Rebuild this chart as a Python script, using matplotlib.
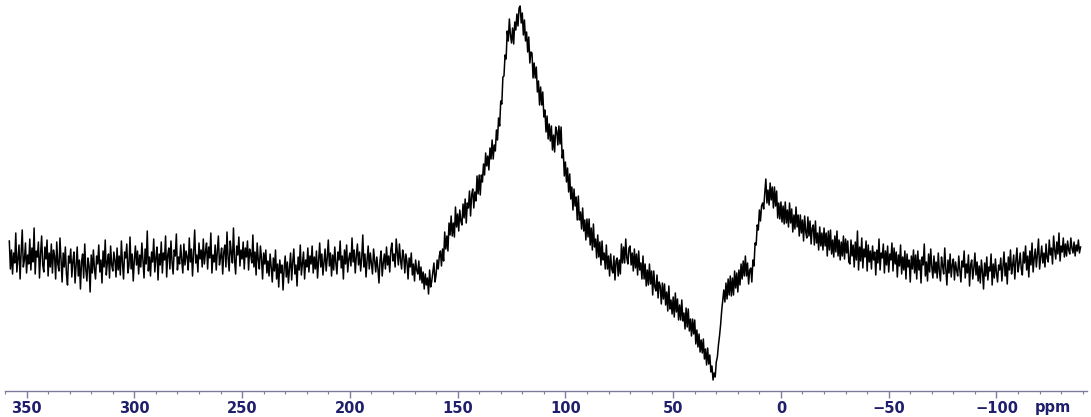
import numpy as np
import matplotlib
matplotlib.use('Agg')
import matplotlib.pyplot as plt
from matplotlib.ticker import MultipleLocator

# Spectrum, one value every 0.5 ppm from 358 down to -139
ppm_start = 358
ppm_end = -139

intensity = [
    # 358 .. 268.5  (flat noisy baseline)
    150, 122, 141, 117, 138, 128, 158, 119, 133, 146, 112, 139, 161, 124, 131, 148, 118, 136, 127, 152,
    121, 143, 129, 163, 117, 140, 134, 149, 113, 137, 155, 126, 119, 144, 132, 151, 115, 138, 124, 147,
    118, 141, 135, 112, 149, 127, 120, 153, 131, 109, 138, 124, 144, 117, 106, 135, 128, 142, 114, 130,
    139, 108, 126, 144, 115, 131, 102, 129, 137, 113, 147, 121, 110, 133, 125, 99, 136, 118, 141, 122,
    112, 135, 127, 146, 119, 131, 108, 140, 124, 151, 116, 129, 137, 113, 145, 126, 120, 139, 131, 114,
    143, 121, 135, 116, 150, 128, 112, 139, 133, 147, 118, 125, 154, 122, 137, 110, 131, 145, 126, 140,
    117, 136, 124, 148, 131, 113, 142, 127, 160, 120, 134, 115, 139, 129, 152, 119, 133, 144, 111, 137,
    126, 149, 118, 138, 131, 155, 114, 136, 143, 122, 150, 129, 117, 141, 135, 157, 121, 134, 127, 146,
    131, 118, 147, 126, 140, 134, 121, 153, 129, 142, 115, 137, 161, 128, 136, 119, 148, 132, 141, 124,
    # 268 .. 168.5
    152, 127, 139, 148, 122, 144, 133, 158, 118, 136, 129, 146, 121, 140, 155, 126, 134, 143, 117, 139,
    146, 124, 159, 133, 120, 150, 138, 128, 163, 131, 117, 145, 136, 154, 125, 141, 132, 149, 122, 143,
    134, 150, 121, 142, 137, 128, 156, 124, 139, 116, 148, 131, 122, 145, 133, 112, 138, 127, 141, 118,
    130, 115, 137, 124, 109, 133, 120, 141, 112, 127, 104, 131, 118, 126, 101, 122, 135, 114, 129, 108,
    123, 138, 111, 129, 142, 117, 126, 105, 134, 121, 146, 116, 128, 139, 112, 131, 124, 143, 119, 135,
    127, 145, 118, 134, 122, 140, 113, 131, 148, 124, 137, 116, 129, 142, 120, 133, 151, 125, 138, 115,
    136, 121, 144, 128, 117, 139, 131, 150, 123, 135, 112, 141, 127, 146, 119, 132, 138, 125, 153, 129,
    141, 118, 135, 147, 126, 139, 120, 133, 156, 124, 137, 114, 131, 145, 122, 138, 127, 117, 142, 130,
    119, 134, 123, 108, 131, 140, 115, 128, 137, 122, 144, 126, 135, 119, 141, 148, 130, 137, 124, 152,
    139, 126, 147, 131, 122, 141, 135, 118, 137, 129, 112, 133, 124, 138, 116, 127, 110, 131, 121, 117,
    # 168 .. 68.5  (broad peak near 121 ppm)
    130, 111, 124, 108, 119, 102, 117, 106, 113, 97, 121, 104, 110, 119, 128, 109, 116, 131, 122, 135,
    140, 125, 142, 130, 159, 142, 155, 140, 168, 156, 175, 155, 168, 154, 184, 164, 177, 160, 181, 170,
    166, 187, 173, 192, 168, 188, 183, 200, 175, 196, 202, 183, 199, 190, 215, 197, 216, 196, 216, 209,
    227, 216, 238, 225, 235, 221, 243, 232, 251, 232, 246, 240, 261, 251, 273, 265, 290, 287, 314, 315,
    336, 332, 360, 350, 372, 356, 348, 363, 347, 369, 361, 377, 365, 383, 385, 368, 378, 356, 371, 350,
    359, 339, 354, 328, 339, 338, 313, 328, 313, 324, 299, 310, 286, 304, 286, 299, 274, 281, 259, 275,
    252, 267, 250, 265, 241, 256, 239, 264, 260, 246, 265, 247, 264, 233, 241, 215, 229, 209, 223, 199,
    217, 192, 204, 181, 202, 185, 194, 171, 195, 171, 179, 162, 183, 160, 171, 151, 172, 154, 172, 146,
    163, 141, 167, 144, 152, 133, 156, 134, 149, 126, 150, 131, 138, 122, 146, 122, 135, 115, 137, 122,
    118, 135, 111, 130, 133, 115, 131, 117, 147, 128, 144, 128, 152, 133, 127, 143, 145, 126, 138, 120,
    # 68 .. -31.5  (dip near 31 ppm, then peak near 7 ppm)
    142, 123, 137, 116, 140, 121, 128, 112, 135, 112, 127, 105, 121, 106, 127, 107, 120, 96, 120, 104,
    100, 116, 93, 109, 105, 87, 108, 92, 107, 86, 99, 80, 105, 82, 91, 77, 94, 74, 98, 79,
    92, 71, 86, 71, 91, 70, 78, 62, 83, 64, 82, 60, 72, 55, 72, 57, 71, 47, 61, 44,
    57, 39, 51, 38, 52, 32, 42, 26, 43, 27, 36, 19, 25, 11, 18, 14, 29, 34, 46, 55,
    66, 80, 91, 101, 89, 108, 92, 112, 96, 115, 95, 113, 96, 120, 103, 118, 99, 121, 106, 127,
    112, 130, 115, 135, 115, 128, 107, 121, 123, 109, 131, 125, 148, 146, 166, 161, 181, 170, 185, 188,
    182, 198, 212, 188, 201, 186, 208, 191, 204, 183, 204, 185, 200, 173, 188, 172, 189, 169, 185, 167,
    189, 168, 181, 164, 188, 168, 182, 159, 176, 162, 184, 164, 176, 155, 176, 158, 171, 150, 175, 159,
    153, 174, 155, 170, 147, 163, 166, 146, 170, 148, 158, 141, 164, 145, 158, 141, 163, 145, 158, 135,
    160, 141, 161, 137, 151, 134, 155, 139, 160, 135, 151, 131, 149, 135, 155, 132, 152, 138, 150, 129,
    # -32 .. -139
    127, 151, 135, 146, 124, 149, 131, 160, 121, 144, 130, 153, 123, 142, 134, 150, 120, 146, 129, 140,
    122, 145, 131, 139, 116, 141, 128, 152, 121, 138, 133, 147, 118, 140, 126, 145, 119, 137, 131, 148,
    120, 143, 127, 139, 114, 136, 125, 146, 117, 134, 121, 140, 112, 137, 124, 131, 109, 135, 122, 141,
    118, 136, 112, 140, 121, 131, 108, 134, 126, 147, 115, 129, 110, 137, 119, 142, 124, 113, 135, 118,
    129, 113, 138, 120, 110, 134, 125, 117, 143, 122, 106, 131, 118, 137, 114, 126, 132, 111, 129, 121,
    115, 135, 121, 109, 130, 124, 140, 113, 127, 118, 136, 105, 126, 131, 112, 123, 138, 116, 129, 110,
    125, 108, 131, 119, 102, 128, 115, 134, 111, 124, 120, 137, 106, 127, 113, 132, 118, 109, 126, 121,
    133, 110, 124, 139, 115, 128, 107, 134, 121, 141, 117, 126, 136, 112, 130, 143, 119, 127, 138, 122,
    116, 139, 128, 145, 121, 135, 114, 140, 126, 148, 119, 133, 142, 124, 137, 152, 122, 134, 145, 128,
    138, 124, 147, 133, 129, 151, 136, 143, 127, 155, 141, 132, 149, 137, 158, 130, 145, 139, 153, 134,
    147, 135, 150, 141, 137, 153, 143, 138, 149, 135, 146, 140, 151, 138, 144,
]

tick_values = [350, 300, 250, 200, 150, 100, 50, 0, -50, -100]

ppm = np.linspace(ppm_start, ppm_end, len(intensity))

fig = plt.figure(figsize=(10.91, 4.17), dpi=100)
ax = fig.add_axes([5 / 1091, 26 / 417, 1082 / 1091, 391 / 417])

ax.plot(ppm, intensity, color='black', linewidth=1.1)

ax.set_xlim(360, -142)
ax.set_ylim(0, 391)

for side in ['left', 'right', 'top']:
    ax.spines[side].set_visible(False)
axis_color = '#7c7c9c'
ax.spines['bottom'].set_color(axis_color)
ax.spines['bottom'].set_linewidth(1.0)
ax.set_yticks([])

ax.set_xticks(tick_values)
ax.xaxis.set_minor_locator(MultipleLocator(10))
ax.tick_params(axis='x', which='major', direction='out', length=5,
               width=1.0, color=axis_color, pad=2,
               labelsize=10.5, labelcolor='#1f1f6b')
ax.tick_params(axis='x', which='minor', direction='out', length=2.5,
               width=0.8, color=axis_color)
for lbl in ax.get_xticklabels():
    lbl.set_fontweight('bold')

# unit label sits on the same line as the tick labels
ax.text(-126, -0.022, 'ppm', transform=ax.get_xaxis_transform(),
        ha='center', va='top', fontsize=10.5, fontweight='bold',
        color='#1f1f6b')

fig.savefig('out.png', dpi=100)
